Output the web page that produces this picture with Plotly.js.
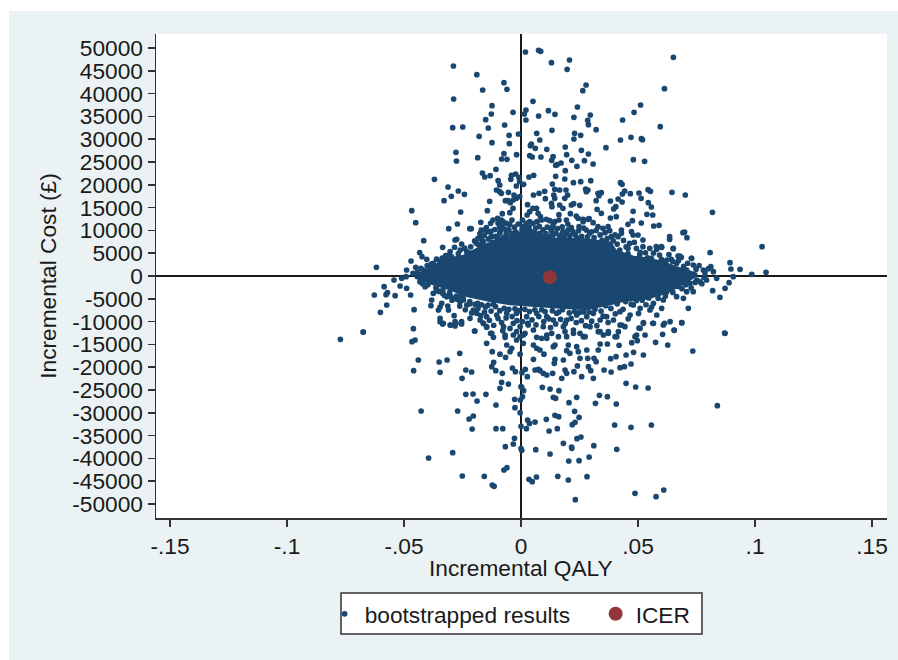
<!DOCTYPE html>
<html>
<head>
<meta charset="utf-8">
<script src="https://cdn.plot.ly/plotly-3.0.1.min.js"></script>
<style>
html,body{margin:0;padding:0;background:#fff;width:898px;height:660px;overflow:hidden}
#chart{position:absolute;left:9px;top:11px;width:889px;height:649px}
</style>
</head>
<body>
<div id="chart"></div>
<script>
const xTickVals = [-0.15,-0.1,-0.05,0,0.05,0.1,0.15];
const xTickText = ["-.15","-.1","-.05","0",".05",".1",".15"];
const yTickVals = [50000,45000,40000,35000,30000,25000,20000,15000,10000,5000,0,-5000,-10000,-15000,-20000,-25000,-30000,-35000,-40000,-45000,-50000];
const icerQaly = [0.0123];
const icerCost = [-290];

// outline of the solid central cloud [QALY, cost]
const coreOutline = [[-.0453,-150],[-.0375,2050],[-.0318,3510],[-.0246,4240],[-.0189,5700],[-.0147,6800],[-.0061,7890],[-.0004,8630],[.0081,8260],[.0167,7890],[.0266,7890],[.038,7160],[.0402,5400],[.048,4000],[.0537,3700],[.0608,2800],[.0665,1700],[.0751,300],[.0665,-2300],[.0594,-3900],[.0537,-4700],[.0437,-5300],[.038,-5990],[.0281,-7090],[.0167,-6730],[.0053,-6360],[-.0047,-5990],[-.0132,-5260],[-.0232,-4170],[-.0303,-2700],[-.0375,-1610],[-.0453,-150]];

const upperTail = [[.0019,49120],[.0075,49490],[.0084,49270],[.013,46780],[.0207,47370],[.0197,45320],[.0651,47950],[-.0289,46050],[-.0189,44150],[-.0073,42400],[-.006,40940],[-.0164,40790],[.0278,41890],[.0264,40640],[.0613,41080],[-.0288,38820],[.0051,38300],[.0511,37500],[.0241,37060],[-.0124,37350],[.0483,35890],[-.0034,35890],[.0021,36400],[.0014,35530],[.0117,36260],[.0145,35450],[.0075,35090],[.0296,35310],[-.0127,35530],[.0226,34800],[-.0151,34280],[.0021,34210],[.0285,34140],[.0288,33190],[.0434,34210],[-.014,32460],[-.007,33110],[-.0292,32530],[-.0249,32680],[.0595,32750],[.0321,32090],[.0132,31940],[.0067,31290],[.0229,31290],[.0255,30850],[-.0011,31140],[-.0051,30850],[-.0179,30630],[.0226,30040],[.0425,29820],[.047,30410],[.0514,30120],[.0519,29900],[.008,29820],[-.0124,29240],[-.005,29020],[.0044,28950],[.004,28580],[.0061,28000],[.011,27780],[.0189,28290],[.0258,27560],[.0363,28140],[-.0278,27120],[-.0276,25220],[-.0073,26830],[-.0019,26610],[-.0083,25660],[-.006,25590],[-.0185,25950],[.0037,26390],[.0048,26100],[.0085,26100],[.0195,26610],[.0288,26750],[.0137,26170],[.0131,25370],[.0217,25370],[.0271,25290],[.048,25510],[.0528,25150],[.0308,24560],[.0171,24780],[.0154,24420],[.0148,24270],[.0239,24050],[.0189,23100],[-.0107,23390],[-.0165,22590],[-.0155,21710],[-.0132,22000],[-.0041,22080],[-.0023,22370],[-.0009,21640],[-.0044,21200],[.0034,21710],[.0054,22080],[.0148,21860],[.0187,21270],[-.037,21200],[.0255,20690],[.0298,20910],[.0224,20470],[-.0098,20910],[-.0091,19960],[-.0006,20690],[-.002,19740],[.0011,20100],[.0134,20180],[.0425,20470],[.0432,20100],[-.0312,19520],[-.0268,18640],[-.0298,17470],[-.0242,17910],[-.0329,16520],[-.0105,18860],[-.0091,18490],[-.0084,18130],[-.0054,18350],[-.003,17760],[.0053,17760],[.0077,18130],[.0101,18570],[.0144,19010],[.0165,18860],[.0192,18860],[.014,17760],[.0144,17030],[.0199,17760],[.0104,16960],[.0187,17030],[.0276,19080],[.0286,18860],[.0279,18490],[.0329,18130],[.0343,18280],[.0333,17620],[.0443,18640],[.0433,17980],[.0467,18060],[.0504,18200],[.0543,18930],[.0553,18570],[.0513,17030],[.0645,18350],[.0702,17760],[.0321,16520],[.0382,16450],[.0415,16890],[.0432,16230],[.0544,16080],[.0557,15130],[.0405,15200],[.0396,14700],[.0479,14180],[.0325,14620],[.0343,13740],[-.0134,16370],[-.0067,16520],[-.0056,16520],[-.0034,16670],[-.0046,16080],[-.002,17030],[-.0006,17400],[-.0034,14840],[-.0048,13890],[-.008,13670],[-.0144,14330],[-.0258,14040],[-.0467,14330],[-.045,11700],[.0818,13960],[.0028,15640],[.013,15940],[.0132,15200],[.0165,15570],[.0179,14840],[.0215,15570],[.0225,15860],[.0251,15500],[.0162,13450],[.0211,13670],[.0236,13160],[.0265,12430],[.0291,12570],[.0407,13010],[.0382,12720],[.0538,13520],[.0563,13380],[.0476,12130],[.0457,11330],[.0429,10090],[.0514,11620],[.0567,10970],[.059,11110],[.0692,9500],[.0699,9650],[.0709,8410],[.0635,8630],[.0635,8050],[-.0416,7750],[.0808,5120],[.065,5990],[-.0309,10380],[-.0272,11400],[-.0219,10380],[-.0213,10380],[-.0172,11770],[-.013,11550],[-.01,12650],[-.0077,11920],[-.0039,12280],[.0037,14110],[.0051,14840],[.0066,14840],[.0026,13380],[.0073,13740],[.0083,13010],[.0037,11920],[.0051,11550],[.0068,11920],[.0023,11550],[.0087,12280],[.0006,12280],[.0006,10820],[.0023,10090],[.0108,12430],[.0123,12130],[.0144,11920],[.0162,12280],[.0137,11180],[.0194,12280],[.02,11400],[.0244,12650],[.0265,11920],[.0286,12430],[.0308,11700],[.0248,10820]];

const upperShoulder = [[.0179,9720],[.0194,9360],[.0222,9720],[.0279,10090],[.0293,9360],[.0329,10820],[.035,10450],[.0372,10820],[.0379,9940],[.0386,8630],[.0415,8630],[.0429,9360],[.0472,9720],[.0479,8990],[.05,8990],[.0521,7890],[.0464,7160],[.0457,6070],[.0493,6070],[.0521,6430],[.055,6070],[.0578,6430],[.06,6430],[.0422,5700],[.0457,4900],[.0507,4610],[.0557,3870],[.06,3650],[.0642,3650],[.0671,4390],[.0685,4090],[.0728,3870],[-.017,10090],[-.0155,10090],[-.0141,9720],[-.0184,8260],[-.017,8630],[-.0191,7160],[-.0091,9360],[-.0063,9360],[-.0034,9360],[-.002,8630],[-.0127,8630],[-.0105,7530],[-.0077,7890],[-.0048,7160],[.0009,9360],[.0023,8260],[.0051,8260],[.008,9360],[.0101,8630],[.0137,8990],[.0165,8630],[.0044,9720],[.0115,7900],[.0144,7530],[-.012,12280],[-.0098,11550],[-.0084,12280],[-.0063,11550],[-.0091,10820],[.0679,4390],[.0651,6070],[.0601,6290],[.058,5850],[-.0335,6290],[-.0282,7890],[-.0275,8040],[-.0254,7020],[-.0303,5340],[-.031,4600],[-.026,5700],[-.0232,5340],[-.0433,5120],[-.0423,4240],[-.0403,3650],[-.0489,1320],[-.047,3290],[-.045,1900],[-.0375,2780],[-.0346,3140],[-.0396,220],[-.0417,1320],[-.0204,4970],[-.0175,8260],[-.0168,7100],[.0729,3870],[.0736,2410],[.0779,1320],[.0822,950],[.0708,1320],[.0665,2780],[.0623,3510],[.0811,2050],[.0893,2920],[.0897,1540],[.0936,1460],[.0986,370],[.1047,800],[.103,6430]];

const lowerShoulder = [[-.0618,1900],[-.0627,-4170],[-.0585,-2340],[-.0571,-3650],[-.0577,-4100],[-.0538,-4310],[-.0574,-6360],[-.0601,-7970],[-.0674,-12280],[-.0457,-7380],[-.0543,-880],[-.0517,-2190],[-.0489,-2700],[-.0472,-4170],[-.051,-510],[-.0491,-150],[-.0432,-1240],[-.041,-2340],[-.0375,-3800],[-.0318,-4530],[-.0246,-5260],[-.0382,-5260],[-.0385,-6510],[-.0353,-7460],[-.0339,-5990],[-.0346,-6800],[-.0313,-6580],[-.031,-7460],[-.0346,-9280],[-.0332,-10380],[-.0301,-10750],[-.0278,-10380],[-.0254,-10010],[-.0286,-8700],[-.0197,-12060],[-.0218,-9280],[-.0189,-8190],[-.0175,-9650],[-.0161,-10380],[-.0147,-11110],[-.0125,-12570],[-.0075,-11110],[-.0068,-12940],[-.0033,-10380],[-.0004,-11110],[.001,-12940],[.0053,-11840],[.0095,-11110],[.011,-12940],[.0138,-9650],[.0181,-11110],[.0195,-13300],[.0224,-11840],[.0266,-13300],[.0338,-12210],[.0373,-12570],[.0423,-10750],[.0444,-11110],[.0409,-13300],[.0494,-12940],[.0509,-11480],[.053,-12940],[.0523,-10380],[.0566,-10380],[.0608,-10750],[.0637,-10010],[.0687,-10230],[.0654,-11840],[.0872,-12570],[.058,-8550],[.0601,-7090],[.0715,-7090],[.0694,-4900],[.0736,-3440],[.0708,-3440],[.0819,-3220],[.085,-4680],[.0872,-2700],[.0889,-1460],[.0907,-150],[.0836,-510],[.0765,-1240],[.0793,-880],[.0651,-2340],[.0679,-1610],[.0722,-1610],[.0751,-880],[.0623,-3440],[.0665,-4530],[.0608,-5260],[.0566,-5990],[.0551,-7460],[.0509,-7090],[.048,-6360],[.0466,-8550],[.0423,-7820],[.0395,-9650],[.0366,-8920],[.0338,-9650],[.0309,-8190],[.0281,-8920],[.0238,-8550],[.0195,-9650],[.0152,-8190],[.011,-8920],[.0067,-8190],[.0024,-8920],[-.0019,-8190],[-.0061,-8190],[-.0104,-8550],[-.0147,-8920],[-.0204,-7460],[-.0232,-6360],[-.0261,-5630],[-.0289,-4900],[-.036,-3000],[-.0335,-3800],[-.0302,-4400],[-.0272,-5100],[-.0255,-4300],[-.0218,-6100],[-.0185,-6000],[-.0152,-6800],[-.0118,-6200]];

const lowerTail = [[-.0772,-13890],[-.0675,-12280],[-.046,-11550],[-.0453,-14040],[-.0466,-14400],[-.0439,-18420],[-.0459,-20760],[-.0427,-29610],[-.0395,-39910],[-.035,-18860],[-.0316,-18420],[-.0346,-21130],[-.0262,-16960],[-.0236,-20610],[-.0211,-21050],[-.0252,-22440],[-.0236,-25950],[-.0205,-25880],[-.015,-25950],[-.0188,-27410],[-.0107,-28290],[-.0271,-29610],[-.0204,-30700],[-.0222,-31360],[-.0209,-33550],[-.0107,-33480],[-.0078,-33480],[-.0292,-38740],[-.0251,-43860],[-.0157,-43940],[-.0123,-45830],[-.0115,-46120],[-.0073,-42540],[-.006,-42030],[-.0067,-37430],[-.0033,-36840],[-.0028,-35600],[0,-37870],[.0003,-38230],[.0063,-38080],[.0124,-39040],[.0034,-44590],[.0048,-45100],[.0066,-44080],[.0157,-43940],[.0202,-44740],[.0282,-44010],[.0232,-49050],[.0487,-47660],[.0577,-48390],[.061,-46930],[.0204,-40570],[.0248,-40500],[.0291,-39690],[.0181,-36700],[.0216,-37500],[.0217,-37800],[.0239,-35670],[.0256,-35310],[.0311,-37210],[.0409,-38010],[0,-32970],[.0023,-33480],[.0036,-32320],[.0028,-31580],[.006,-32030],[.0108,-31430],[.0145,-30560],[.0161,-30850],[.0248,-30990],[.0155,-33480],[.012,-33990],[.0219,-32600],[.0231,-32090],[.0229,-29680],[.04,-32670],[.047,-33190],[.0557,-32670],[.0839,-28440],[.087,-12500],[.0734,-16450],[.0407,-28070],[.0318,-27920],[.0335,-26170],[.0369,-26460],[.0238,-26610],[.0205,-27780],[.0138,-26610],[.0148,-26830],[.0091,-24420],[.0124,-24790],[.0162,-25150],[.0449,-23540],[.049,-24340],[.0543,-24560],[.0003,-24420],[0,-24280],[.0011,-25150],[.0006,-26460],[-.0003,-27190],[-.0027,-27040],[-.0026,-28880],[-.0004,-29970],[-.009,-24640],[-.0083,-23320],[-.0054,-23690],[-.008,-21350],[-.0125,-19880],[-.0117,-18930],[-.0108,-20760],[-.0037,-20180],[-.0024,-20980],[.0004,-21200],[.0018,-20470],[.0027,-22080],[.0053,-18270],[.006,-20610],[.0074,-20470],[.0081,-20760],[.0095,-21350],[.011,-21710],[.0135,-21350],[.0174,-22440],[.0188,-20610],[.0195,-21350],[.0226,-20980],[.0259,-22080],[.0309,-22440],[.0241,-19730],[.0288,-19880],[.0298,-20760],[.0355,-20610],[.0385,-21050],[.0423,-20100],[.0442,-19880],[.047,-19300],[.0449,-17320],[.0481,-16740],[.0523,-17320],[.0406,-17690],[.0383,-18130],[.0145,-18270],[.0181,-18420],[.0142,-19150],[.0195,-16380],[.0209,-16960],[.0252,-18060],[.0285,-18060],[.0312,-18060],[.0321,-18790],[.0098,-17140],[-.0004,-17140],[-.0066,-17830],[-.0123,-16600],[-.009,-17140],[-.0346,-10010],[-.0335,-10530],[-.0303,-10750],[-.0282,-10960],[-.0282,-10010],[-.0254,-10530],[-.0199,-12060],[-.0161,-10380],[-.0147,-11260],[-.013,-12570],[-.0118,-13450],[-.0147,-14770],[-.0078,-11990],[-.0068,-13450],[-.0033,-12940],[-.0019,-12210],[-.0004,-13300],[.0017,-12570],[.0031,-10750],[.0067,-13450],[.0088,-13670],[.011,-13670],[.0131,-12570],[.016,-13300],[.0188,-12210],[.0224,-12570],[.0252,-12570],[.0274,-13300],[.0295,-11110],[.033,-12210],[.0352,-12940],[.0373,-12210],[.0402,-13300],[.0416,-12210],[.043,-10750],[.0504,-11400],[.0487,-13300],[.0497,-14180],[.0473,-14620],[.0523,-10230],[.0563,-10380],[.0613,-10380],[.0605,-12790],[.0655,-11920],[.0687,-10230],[.0575,-14550],[.0627,-15130],[-.0061,-15130],[-.004,-15860],[-.0047,-16600],[-.0019,-14040],[.001,-14770],[.0053,-15130],[.0067,-15860],[.0081,-16230],[.0138,-15500],[.0145,-15130],[.0202,-15130],[.0238,-15500],[.0245,-16600],[.0281,-16230],[.033,-16230],[.0338,-14910],[.0369,-14910],[.0419,-15210]];

// estimated points of the dense band above the core
const denseAbove = [[-.0215,6400],[-.0198,7700],[-.0182,6900],[-.0176,9300],[-.0161,7600],[-.0157,8900],[-.0148,10600],[-.0139,8100],[-.0128,9800],[-.0121,7400],[-.0112,10200],[-.0109,8700],[-.0096,8200],[-.0089,9900],[-.0082,11000],[-.0074,8500],[-.0069,10300],[-.0058,8300],[-.0052,10100],[-.0049,11300],[-.0041,9000],[-.0028,10700],[-.0022,9600],[-.0012,11400],[-.0008,9200],[.0004,10200],[.0012,8900],[.0018,11000],[.0029,9500],[.0034,10700],[.0041,8800],[.0059,9400],[.0063,10500],[.0072,9000],[.0078,10900],[.0088,8600],[.0094,10100],[.0106,9300],[.0112,10700],[.0121,8700],[.0129,9900],[.0134,10500],[.0149,9400],[.0156,10400],[.0171,9000],[.0176,10800],[.0186,8400],[.0201,10100],[.0209,8800],[.0215,10600],[.0231,9100],[.0238,8400],[.0246,9900],[.0259,8700],[.0268,10500],[.0284,8600],[.0301,9700],[.0312,8400],[.0321,10000],[.0338,9000],[.0346,7800],[.0359,9500],[.0368,8200],[.0394,7700],[.0402,9000],[.0411,7000],[.0438,7800],[.0449,6400],[.0484,7400],[.0509,5200],[.0532,5100],[.0541,4000],[.0566,5000],[.0592,4600],[.0614,2900],[.0632,4700],[.0648,3200],[.0673,3400],[.0695,2100],[.0712,2800],[.0748,1500],[.0761,2300],[.0786,700],[.0801,1600],[-.0222,5100],[-.0241,6100],[-.0268,4900],[-.0284,6300],[-.0296,4200],[-.0322,4500],[-.0337,3900],[-.0361,3700],[-.0384,2600],[-.0401,2300],[-.0428,1700],[-.0443,800],[-.0462,600]];

// estimated points of the dense band below the core
const denseBelow = [[-.0398,-1900],[-.0421,-1700],[-.0364,-2600],[-.0352,-3400],[-.0334,-3100],[-.0328,-4200],[-.0305,-3600],[-.0295,-5300],[-.0276,-4400],[-.0262,-6600],[-.0248,-4800],[-.0238,-7400],[-.0219,-5600],[-.0211,-8100],[-.0196,-6200],[-.0184,-7100],[-.0172,-8700],[-.0168,-6300],[-.0156,-7900],[-.0141,-6400],[-.0135,-9700],[-.0128,-7700],[-.0117,-10800],[-.0109,-6700],[-.0098,-9300],[-.0091,-7600],[-.0083,-10200],[-.0072,-7100],[-.0064,-9200],[-.0052,-7300],[-.0047,-11500],[-.0038,-8900],[-.0026,-7200],[-.0017,-9800],[-.0009,-7600],[.0006,-10000],[.0016,-7300],[.0029,-10400],[.0036,-7800],[.0047,-9600],[.0059,-7400],[.0064,-10700],[.0076,-8900],[.0088,-7400],[.0097,-10000],[.0103,-7800],[.0119,-9400],[.0126,-11300],[.0134,-7600],[.0148,-10500],[.0161,-7900],[.0169,-9500],[.0177,-7400],[.0189,-10400],[.0206,-8100],[.0214,-9300],[.0229,-7800],[.0236,-10200],[.0249,-8000],[.0258,-9800],[.0268,-7900],[.0276,-10900],[.0291,-7900],[.0302,-9900],[.0316,-7300],[.0324,-10900],[.0342,-7700],[.0351,-8800],[.0362,-6500],[.0372,-10200],[.0384,-7100],[.0403,-8300],[.0411,-6100],[.0436,-7300],[.0447,-5600],[.0458,-9400],[.0471,-6200],[.0493,-5400],[.0502,-8200],[.0518,-5300],[.0534,-6300],[.0546,-4800],[.0558,-6800],[.0572,-3900],[.0586,-4900],[.0598,-2800],[.0617,-4400],[.0634,-2900],[.0649,-3600],[.0672,-2300],[.0688,-2800],[.0704,-1900],[.0727,-2600],[.0744,-1400],[.0773,-1700],[.0782,-300]];

const navy = "#1a476f";
const ink = "#1a1a1a";
const points = upperTail.concat(upperShoulder, denseAbove, lowerShoulder, denseBelow, lowerTail);

const traces = [
  {x: coreOutline.map(p=>p[0]), y: coreOutline.map(p=>p[1]), type:"scatter", mode:"lines", fill:"toself",
   fillcolor:navy, line:{color:navy,width:4}, showlegend:false, hoverinfo:"skip"},
  {x: points.map(p=>p[0]), y: points.map(p=>p[1]), type:"scatter", mode:"markers", name:"bootstrapped results",
   marker:{color:navy,size:5.7}},
  {x: icerQaly, y: icerCost, type:"scatter", mode:"markers", name:"ICER",
   marker:{color:"#90353b",size:14}}
];

const layout = {
  width:889, height:649, autosize:false,
  margin:{l:147,r:11,t:23,b:142},
  paper_bgcolor:"#eaf2f3", plot_bgcolor:"#ffffff",
  font:{family:"Liberation Sans, Arial, sans-serif",size:22.7,color:ink},
  showlegend:true,
  legend:{orientation:"h",x:0.2307,xanchor:"left",y:-0.154,yanchor:"top",bgcolor:"rgba(0,0,0,0)",
    borderwidth:0,font:{size:22.7,color:ink},entrywidth:226,entrywidthmode:"pixels"},
  shapes:[{type:"rect",xref:"paper",yref:"paper",x0:0.2531,x1:0.7469,y0:-0.155,y1:-0.2397,
    fillcolor:"#ffffff",line:{color:"#333333",width:1.5},layer:"below"}],
  annotations:[{text:"Incremental QALY",xref:"paper",yref:"paper",x:0.4993,y:-0.1033,xanchor:"center",yanchor:"middle",
    showarrow:false,font:{size:22.7,color:ink}}],
  xaxis:{range:[-0.156,0.1564],tickmode:"array",tickvals:xTickVals,ticktext:xTickText,
    showgrid:false,zeroline:true,zerolinecolor:ink,zerolinewidth:1.5,
    showline:true,linecolor:"#333333",linewidth:1.5,ticks:"outside",ticklen:7,tickcolor:"#333333",tickwidth:1.5},
  yaxis:{range:[-53070,53070],tickmode:"array",tickvals:yTickVals,ticktext:yTickVals.map(String),tickangle:0,
    showgrid:false,zeroline:true,zerolinecolor:ink,zerolinewidth:1.5,
    showline:true,linecolor:"#333333",linewidth:1.5,ticks:"outside",ticklen:7,tickcolor:"#333333",tickwidth:1.5,
    title:{text:"Incremental Cost (£)",standoff:9,font:{size:22.7}}}
};
Plotly.newPlot("chart",traces,layout,{displayModeBar:false,staticPlot:true});
</script>
</body>
</html>
